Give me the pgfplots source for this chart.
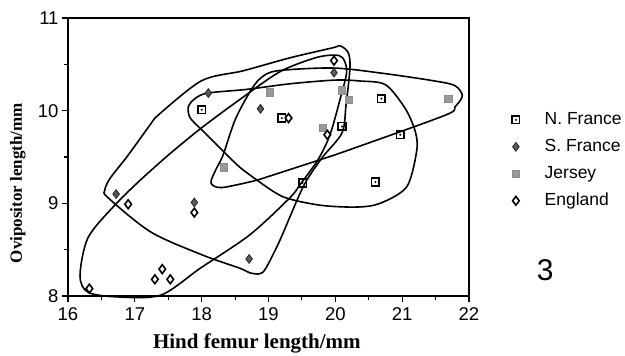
\documentclass[border=0pt]{standalone}
\usepackage{fontspec}
\setmainfont{Liberation Sans}
\newfontfamily\labelfont{Liberation Serif}
\usepackage{pgfplots}
\pgfplotsset{compat=1.18}

\pgfdeclareplotmark{sqdot}{%
  \pgfpathrectangle{\pgfpoint{-\pgfplotmarksize}{-\pgfplotmarksize}}{\pgfpoint{2\pgfplotmarksize}{2\pgfplotmarksize}}%
  \pgfusepathqstroke
  \pgfpathcircle{\pgfpointorigin}{0.3\pgfplotmarksize}%
  \pgfusepathqfill
}

\begin{document}
\begin{tikzpicture}
\useasboundingbox (0,0) rectangle (625pt,356pt);
\begin{axis}[
  at={(68pt,60pt)}, anchor=south west,
  scale only axis, width=401pt, height=278pt,
  xmin=16, xmax=22, ymin=8, ymax=11,
  xtick={16,...,22}, ytick={8,9,10,11},
  minor x tick num=1, minor y tick num=1,
  tick align=outside, tick pos=left,
  major tick length=6pt, minor tick length=4pt,
  axis line style={line width=1.3pt},
  every tick/.style={line width=1.1pt, black},
  tick label style={font=\fontsize{18.5}{21}\selectfont},
  xticklabel style={yshift=-2pt},
  /pgf/number format/assume math mode=true,
  xlabel={Hind femur length/mm}, ylabel={Ovipositor length/mm},
  xlabel style={font=\labelfont\bfseries\fontsize{21}{24}\selectfont, at={(axis description cs:0.471,-0.169)}, anchor=center},
  ylabel style={font=\labelfont\bfseries\fontsize{17}{20}\selectfont, at={(axis description cs:-0.125,0.406)}, anchor=center},
  clip=false,
  legend style={at={(rel axis cs:1.102,0.6705)}, anchor=north west, draw=none, fill=none,
    inner sep=0pt, row sep=7pt,
    font=\fontsize{17.5}{20}\selectfont,
    nodes={inner sep=2pt, text height=12.5pt, text depth=3.5pt}},
  legend cell align=left,
  legend image code/.code={\path (0pt,0pt) (31pt,0pt);\draw[mark repeat=2,mark phase=2] plot coordinates {(0pt,0pt)(5pt,0pt)(31pt,0pt)};},
]
% hull outlines
\addplot[forget plot, black, line width=1.6pt, smooth, tension=0.5, mark=none] coordinates {
 (18.83,9.25)(19.22,9.07)(19.77,8.98)(20.32,8.96)(20.67,9.00)(21.07,9.18)(21.22,9.58)(21.19,9.79)
 (21.04,10.03)(20.75,10.28)(20.37,10.32)(20.00,10.33)(19.32,10.29)(18.68,10.23)(18.09,10.19)
 (17.90,10.13)(17.80,10.04)(17.83,9.92)(18.02,9.78)(18.27,9.60)(18.57,9.39)(18.83,9.25)};
\addplot[forget plot, black, line width=1.6pt, smooth, tension=0.5, mark=none] coordinates {
 (18.83,9.25)(19.77,9.47)(20.22,9.58)(21.64,9.95)(21.79,10.04)(21.90,10.16)(21.79,10.27)(21.49,10.32)
 (20.74,10.40)(19.97,10.46)(19.13,10.43)(18.88,10.35)(18.72,10.20)(18.50,9.90)(18.32,9.52)(18.21,9.36)
 (18.14,9.22)(18.30,9.17)(18.83,9.25)};
\addplot[forget plot, black, line width=1.6pt, smooth, tension=0.5, mark=none] coordinates {
 (17.30,9.92)(17.99,10.32)(18.62,10.43)(19.32,10.57)(19.97,10.68)(20.07,10.70)(20.19,10.63)(20.22,10.47)
 (20.16,10.06)(20.10,9.76)(19.80,9.49)(19.52,9.18)(19.17,8.60)(18.96,8.30)(18.87,8.24)(18.72,8.25)
 (18.57,8.30)(18.02,8.44)(17.24,8.69)(16.60,9.06)(16.55,9.14)(16.63,9.27)(16.90,9.52)(17.30,9.92)};
\addplot[forget plot, black, line width=1.6pt, smooth, tension=0.5, mark=none] coordinates {
 (17.08,9.25)(17.50,9.52)(17.99,9.81)(18.57,10.12)(19.17,10.42)(19.70,10.57)(19.98,10.60)(20.11,10.57)
 (20.17,10.42)(20.07,10.12)(19.92,9.74)(19.74,9.47)(19.47,9.20)(19.32,9.06)(18.72,8.66)(17.98,8.30)
 (17.39,8.01)(16.75,7.99)(16.30,8.04)(16.18,8.22)(16.30,8.63)(16.70,8.98)(17.08,9.25)};
% data
\addplot[only marks, mark=sqdot, mark size=3.8pt, line width=1.6pt, black] coordinates {
 (18.00,10.01)(19.20,9.92)(20.10,9.83)(20.69,10.13)(20.97,9.74)(19.51,9.22)(20.60,9.23)};
\addlegendentry{N. France}
\addplot[only marks, mark=diamond*, mark size=4.4pt, draw=black!85, fill=black!65, line width=0.8pt] coordinates {
 (16.72,9.10)(17.89,9.01)(18.10,10.19)(18.88,10.02)(19.98,10.41)(18.71,8.40)};
\addlegendentry{S. France}
\addplot[only marks, mark=square*, mark size=3.6pt, draw=black!45, fill=black!40, line width=0.4pt] coordinates {
 (18.33,9.39)(19.02,10.20)(20.10,10.22)(20.20,10.12)(19.81,9.82)(21.69,10.13)};
\addlegendentry{Jersey}
\addplot[only marks, mark=diamond, mark size=4.4pt, black, line width=1.6pt] coordinates {
 (16.32,8.08)(17.30,8.18)(17.41,8.29)(17.53,8.18)(16.90,8.99)(17.89,8.90)(19.30,9.92)(19.88,9.74)(19.98,10.54)};
\addlegendentry{England}
\node[font=\fontsize{30}{34}\selectfont] at (rel axis cs:1.19,0.094) {3};
\end{axis}
\end{tikzpicture}
\end{document}
